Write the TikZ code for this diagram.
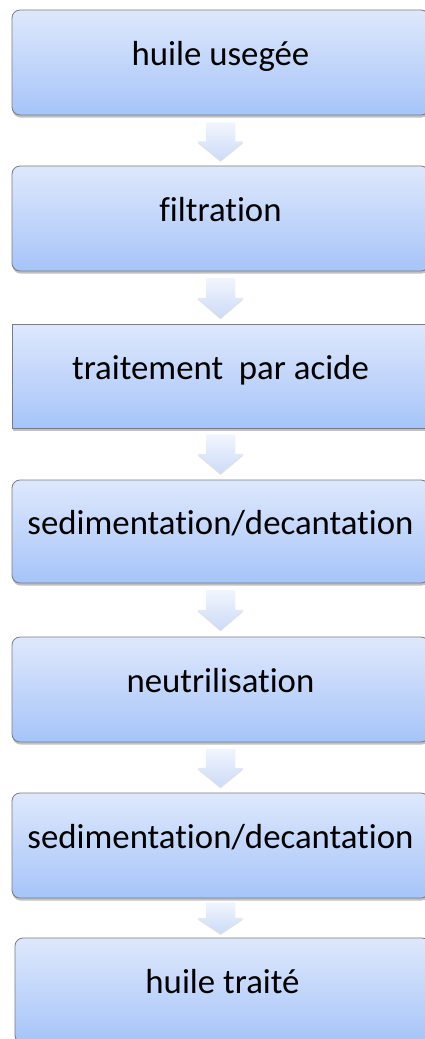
\documentclass[tikz,border=0pt]{standalone}
\usepackage{fontspec}
\setmainfont[Ligatures={NoCommon}]{Carlito}
\usetikzlibrary{shadows,calc}
\definecolor{boxtop}{HTML}{DEE8FC}
\definecolor{boxbot}{HTML}{A6C4F9}
\definecolor{boxline}{HTML}{767B86}
\definecolor{arrtop}{HTML}{F1F5FD}
\definecolor{arrbot}{HTML}{CCDBF8}
\tikzset{
  stepbox/.style={rectangle, rounded corners=8pt, draw=boxline, line width=0.8pt,
    top color=boxtop, bottom color=boxbot,
    drop shadow={shadow xshift=0.5pt, shadow yshift=-2.5pt, opacity=0.35, fill=black!70},
    minimum width=417pt, minimum height=105pt, inner sep=0pt,
    font=\fontsize{34.8}{40}\selectfont, text height=0.62em, text depth=0pt},
  squarebox/.style={stepbox, rounded corners=0pt},
  flowarrow/.style={draw=none, top color=arrtop, bottom color=arrbot,
    drop shadow={shadow xshift=0pt, shadow yshift=-1.5pt, opacity=0.12, fill=black}}
}
% #1 upper node, #2 gap below it, #3 arrow length
\newcommand\flowarr[3]{%
  \path[flowarrow] ($(#1.south)+(-14.5,-#2)$) -- ++(29,0) -- ++(0,{-#3/2}) -- ++(8.5,0)
    -- ++(-23,{-#3/2}) -- ++(-23,{#3/2}) -- ++(8.5,0) -- cycle;}
\begin{document}
\begin{tikzpicture}[x=1pt,y=1pt]
\useasboundingbox (0,0) rectangle (425,-1039);
\clip (0,0) rectangle (425,-1039);
\fill[white] (0,0) rectangle (425,-1039);
\node[stepbox] (b1) at (220.5,-62.5) {huile usegée};
\node[stepbox] (b2) at (220.5,-218.5) {filtration};
\node[squarebox, minimum height=104pt] (b3) at (220.5,-376) {traitement\ \ par acide};
\node[stepbox, minimum height=103pt] (b4) at (220.5,-531.5) {sedimentation/decantation};
\node[stepbox] (b5) at (220.5,-689.5) {neutrilisation};
\node[stepbox] (b6) at (220.5,-845.5) {sedimentation/decantation};
\node[stepbox, minimum width=415pt] (b7) at (222.5,-990.5) {huile traité};
\flowarr{b1}{7}{38}
\flowarr{b2}{6.5}{40}
\flowarr{b3}{6}{39}
\flowarr{b4}{6.5}{40}
\flowarr{b5}{6.5}{38}
\flowarr{b6}{4}{31}
\end{tikzpicture}
\end{document}
